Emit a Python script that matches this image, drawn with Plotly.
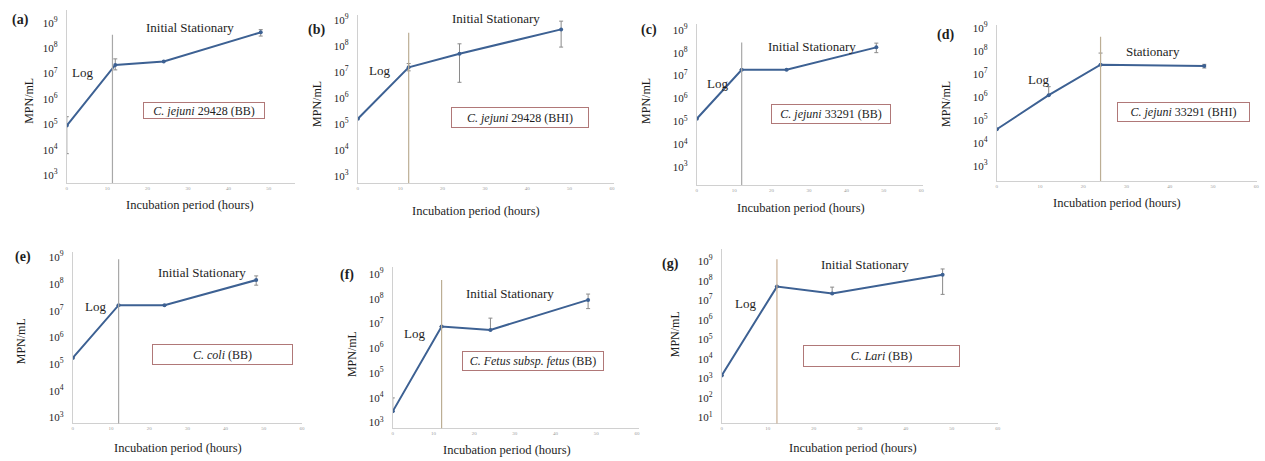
import plotly.graph_objects as go

# ---------------- data ----------------
hours = [0, 12, 24, 48]

a_mpn = [9e4, 2.2e7, 3.0e7, 4.2e8]
a_err_plus = [1.1e5, 1.6e7, 0, 1.2e8]
a_err_minus = [8.3e4, 8e6, 0, 1.2e8]

b_mpn = [1.6e5, 1.5e7, 5e7, 4.3e8]
b_err_plus = [0, 6e6, 7e7, 4.6e8]
b_err_minus = [0, 4e6, 4.6e7, 3.4e8]

c_mpn = [1.3e5, 1.8e7, 1.8e7, 1.7e8]
c_err_plus = [0, 0, 0, 9e7]
c_err_minus = [0, 0, 0, 7e7]

d_mpn = [4e4, 1.2e6, 2.5e7, 2.2e7]
d_err_plus = [0, 1.6e6, 5.5e7, 4e6]
d_err_minus = [0, 0, 0, 4e6]

e_mpn = [1.7e5, 1.6e7, 1.6e7, 1.4e8]
e_err_plus = [0, 0, 0, 6e7]
e_err_minus = [0, 0, 0, 5e7]

f_mpn = [2.8e3, 7.5e6, 5.5e6, 9e7]
f_err_plus = [7e3, 0, 1.1e7, 6.5e7]
f_err_minus = [0, 0, 0, 5e7]

g_mpn = [1.4e3, 5e7, 2.2e7, 2e8]
g_err_plus = [0, 0, 2.5e7, 2e8]
g_err_minus = [0, 0, 0, 1.8e8]

panel_letters = ["(a)", "(b)", "(c)", "(d)", "(e)", "(f)", "(g)"]
strain_labels = [
    "<i>C. jejuni</i> 29428 (BB)",
    "<i>C. jejuni</i> 29428 (BHI)",
    "<i>C. jejuni</i> 33291 (BB)",
    "<i>C. jejuni</i> 33291 (BHI)",
    "<i>C. coli</i> (BB)",
    "<i>C. Fetus subsp. fetus</i> (BB)",
    "<i>C. Lari</i> (BB)",
]
phase_labels = ["Initial Stationary", "Initial Stationary", "Initial Stationary",
                "Stationary", "Initial Stationary", "Initial Stationary", "Initial Stationary"]
phase_boundary = [11.3, 12, 12, 24, 12, 12, 12]
x_tick_values = [0, 10, 20, 30, 40, 50, 60]
y_title = "MPN/mL"
x_title = "Incubation period (hours)"

series = [
    (a_mpn, a_err_plus, a_err_minus),
    (b_mpn, b_err_plus, b_err_minus),
    (c_mpn, c_err_plus, c_err_minus),
    (d_mpn, d_err_plus, d_err_minus),
    (e_mpn, e_err_plus, e_err_minus),
    (f_mpn, f_err_plus, f_err_minus),
    (g_mpn, g_err_plus, g_err_minus),
]

# ---------------- layout geometry (pixels) ----------------
W, H = 1265, 461
# L, R, top, bottom, xmax, y_hi_px, y_lo_px, lo_exp, hi_exp
geom = [
    (66, 295, 5, 180, 56.5, 18, 172, 3, 9),
    (358, 615, 10, 180, 60.5, 15, 173, 3, 9),
    (698, 925, 19, 182, 60.5, 25, 164, 3, 9),
    (999, 1260, 20, 178, 60.2, 23, 163, 3, 9),
    (72, 302, 250, 423, 60, 255, 417, 3, 9),
    (393, 640, 265, 428, 60.5, 272, 422, 3, 9),
    (723, 1000, 247, 423, 60, 259, 417, 1, 9),
]
vline_top_px = [30, 28, 38, 32, 257, 278, 257]
vline_colors = ["#A8A8A8", "#BCAE94", "#A8A8A8", "#BCAE94", "#A8A8A8", "#BCAE94", "#C8AE94"]
letter_pos = [(20, 15), (317, 25), (650, 25), (947, 30), (22, 255), (347, 273), (672, 262)]
ytitle_pos = [(28, 97), (317, 100), (647, 97), (948, 100), (20, 340), (352, 353), (677, 333)]
xtitle_pos = [(190, 202), (477, 208), (803, 205), (1120, 200), (178, 448), (508, 450), (855, 448)]
phase_pos = [(190, 23), (497, 14), (814, 42), (1156, 47), (202, 270), (511, 292), (867, 262)]
log_pos = [(82, 68), (380, 66), (719, 79), (1041, 75), (95, 305), (415, 332), (747, 302)]
box_geom = [(204, 106.5, 122, 17), (521, 113.5, 138, 21), (833, 110, 120, 20),
            (1186.5, 108, 133, 20), (222.5, 353.5, 141, 21), (534, 360, 142, 20),
            (883.5, 355, 157, 22)]

LINE = "#3D6193"
ERR = "#8A8A8A"
AXIS = "#D0D0D0"
BOX = "#B07878"
SERIF = "Liberation Serif, Times New Roman, serif"
TXT = "#1E1E1E"


def px(x, y):
    return x / W, 1 - y / H


fig = go.Figure()
annotations = []
shapes = []
layout = {}

for i, ((mpn, ep, em), g) in enumerate(zip(series, geom)):
    L, R, top, bot, xmax, yhi, ylo, lo, hi = g
    sfx = "" if i == 0 else str(i + 1)
    decade = (ylo - yhi) / (hi - lo)
    rmin = lo - (bot - ylo) / decade
    rmax = hi + (yhi - top) / decade

    fig.add_trace(go.Scatter(
        x=hours, y=mpn, xaxis="x" + sfx, yaxis="y" + sfx,
        mode="lines+markers",
        line=dict(color=LINE, width=2),
        marker=dict(size=4, color=LINE),
        error_y=dict(type="data", symmetric=False, array=ep, arrayminus=em,
                     color=ERR, thickness=1, width=2),
        showlegend=False, hoverinfo="skip",
    ))

    exps = list(range(lo, hi + 1))
    layout["xaxis" + sfx] = dict(
        domain=[L / W, R / W], range=[0, xmax], anchor="y" + sfx,
        showline=True, linecolor=AXIS, linewidth=1, showgrid=False, zeroline=False,
        ticks="", tickvals=[v for v in x_tick_values if v <= xmax],
        tickfont=dict(size=5, color="#9A9A9A", family=SERIF), fixedrange=True,
    )
    layout["yaxis" + sfx] = dict(
        type="log", domain=[1 - bot / H, 1 - top / H], range=[rmin, rmax],
        anchor="x" + sfx, showline=True, linecolor=AXIS, linewidth=1,
        showgrid=False, zeroline=False, ticks="",
        tickvals=[10 ** e for e in exps],
        ticktext=["10<sup>%d</sup>" % e for e in exps],
        tickfont=dict(size=11, color=TXT, family=SERIF),
        ticklabelstandoff=6, fixedrange=True,
    )

    # phase boundary line
    vfrac = (bot - vline_top_px[i]) / (bot - top)
    shapes.append(dict(type="line", xref="x" + sfx, yref="y%s domain" % sfx,
                       x0=phase_boundary[i], x1=phase_boundary[i], y0=0, y1=vfrac,
                       line=dict(color=vline_colors[i], width=1.2)))

    def ann(pos, text, size, **kw):
        x, y = px(*pos)
        d = dict(xref="paper", yref="paper", x=x, y=y, text=text, showarrow=False,
                 xanchor="center", yanchor="middle",
                 font=dict(family=SERIF, size=size, color=TXT))
        d.update(kw)
        annotations.append(d)

    ann(letter_pos[i], "<b>%s</b>" % panel_letters[i], 14)
    ann(ytitle_pos[i], y_title, 12, textangle=-90)
    ann(xtitle_pos[i], x_title, 12.5)
    ann(phase_pos[i], phase_labels[i], 13)
    ann(log_pos[i], "Log", 13)
    bx, by, bw, bh = box_geom[i]
    ann((bx, by), strain_labels[i], 12, bordercolor=BOX, borderwidth=1,
        borderpad=1, bgcolor="white", width=bw - 4, height=bh - 4)

fig.update_layout(
    width=W, height=H, margin=dict(l=0, r=0, t=0, b=0),
    paper_bgcolor="white", plot_bgcolor="white",
    annotations=annotations, shapes=shapes, showlegend=False,
    **layout,
)

fig.write_html("out.html", config={"displayModeBar": False},
               post_script="document.body.style.margin='0';")
